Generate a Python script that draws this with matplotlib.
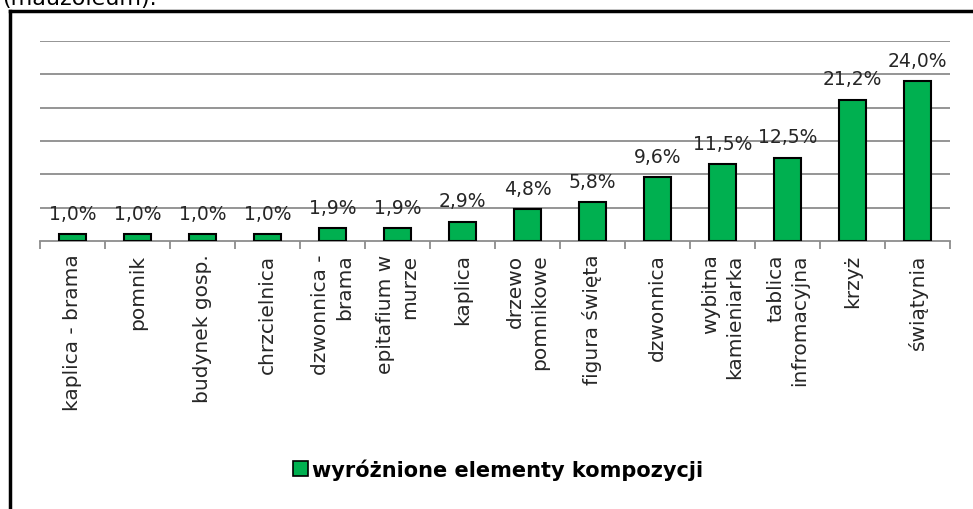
import matplotlib.pyplot as plt
from matplotlib.lines import Line2D
from matplotlib.patches import Patch

categories = ['kaplica - brama', 'pomnik', 'budynek gosp.', 'chrzcielnica',
              'dzwonnica -\nbrama', 'epitafium w\nmurze', 'kaplica',
              'drzewo\npomnikowe', 'figura święta', 'dzwonnica',
              'wybitna\nkamieniarka', 'tablica\ninfromacyjna', 'krzyż',
              'świątynia']
values = [1.0, 1.0, 1.0, 1.0, 1.9, 1.9, 2.9, 4.8, 5.8, 9.6, 11.5, 12.5, 21.2, 24.0]
series_name = 'wyróżnione elementy kompozycji'

plt.rcParams['font.family'] = ['DejaVu Sans']

W, H = 973, 510
fig = plt.figure(figsize=(W / 100, H / 100), dpi=100)
ax = fig.add_axes([40 / W, 1 - 242 / H, 910 / W, 200 / H])

x = list(range(len(categories)))
ax.bar(x, values, width=0.42, color='#00B050', edgecolor='black', linewidth=1.5, zorder=3)

for xi, v in zip(x, values):
    ax.annotate(f'{v:.1f}%'.replace('.', ','), (xi, v), xytext=(0, 11),
                textcoords='offset points', ha='center', va='baseline',
                fontsize=13.5, color='#262626', zorder=4)

ax.set_xlim(-0.5, len(categories) - 0.5)
ax.set_ylim(0, 30)
ax.set_yticks([5, 10, 15, 20, 25, 30])
ax.yaxis.grid(True, color='#8c8c8c', linewidth=1.3)
ax.tick_params(axis='y', length=0, labelleft=False)

ax.set_xticks(x)
ax.set_xticklabels(categories, rotation=90, ha='center', va='top',
                   multialignment='right', fontsize=14.5, color='#262626',
                   linespacing=1.3)
ax.set_xticks([i - 0.5 for i in range(len(categories) + 1)], minor=True)
ax.tick_params(axis='x', which='major', length=0, pad=9)
ax.tick_params(axis='x', which='minor', length=6, color='#8c8c8c', width=1.3)

for s in ['top', 'right', 'left']:
    ax.spines[s].set_visible(False)
ax.spines['bottom'].set_color('#8c8c8c')
ax.spines['bottom'].set_linewidth(1.3)

# legend under the chart
leg = fig.legend(handles=[Patch(facecolor='#00B050', edgecolor='black', linewidth=1.2, label=series_name)],
                 loc='center', bbox_to_anchor=(498 / W, 1 - 470 / H), frameon=False,
                 handlelength=0.7, handleheight=0.7, handletextpad=0.2,
                 prop={'weight': 'bold', 'size': 15})

# frame around the chart
fig.add_artist(Line2D([10 / W, 10 / W], [0, 1 - 12 / H], color='black', linewidth=2.5,
                      transform=fig.transFigure))
fig.add_artist(Line2D([10 / W, 1], [1 - 12 / H, 1 - 12 / H], color='black', linewidth=2.5,
                      transform=fig.transFigure))

fig.text(2 / W, 1 - 5 / H, '(mauzoleum).', fontsize=16, va='baseline', ha='left')

fig.savefig('out.png', dpi=100)
